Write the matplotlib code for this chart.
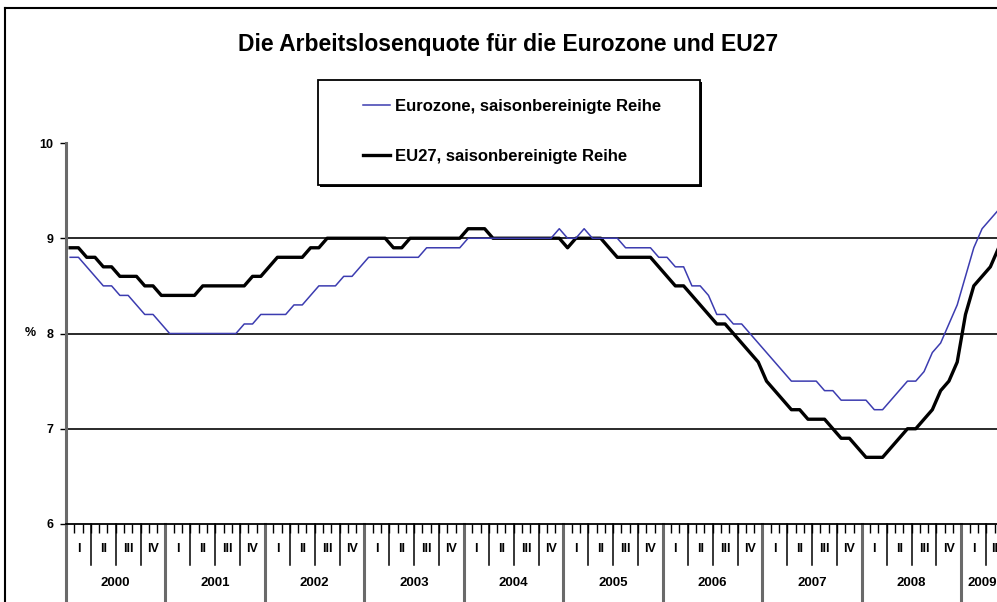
import numpy as np
import matplotlib
matplotlib.use("Agg")
import matplotlib.pyplot as plt
from matplotlib.patches import Rectangle
from matplotlib.lines import Line2D

plt.rcParams["font.family"] = ["Liberation Sans", "DejaVu Sans"]

###############################################################################
# Daten: monatliche Arbeitslosenquote in %, Jan 2000 - Mai 2009
###############################################################################

eurozone = [
    8.8, 8.8, 8.7, 8.6, 8.5, 8.5, 8.4, 8.4, 8.3, 8.2, 8.2, 8.1,   # 2000
    8.0, 8.0, 8.0, 8.0, 8.0, 8.0, 8.0, 8.0, 8.0, 8.1, 8.1, 8.2,   # 2001
    8.2, 8.2, 8.2, 8.3, 8.3, 8.4, 8.5, 8.5, 8.5, 8.6, 8.6, 8.7,   # 2002
    8.8, 8.8, 8.8, 8.8, 8.8, 8.8, 8.8, 8.9, 8.9, 8.9, 8.9, 8.9,   # 2003
    9.0, 9.0, 9.0, 9.0, 9.0, 9.0, 9.0, 9.0, 9.0, 9.0, 9.0, 9.1,   # 2004
    9.0, 9.0, 9.1, 9.0, 9.0, 9.0, 9.0, 8.9, 8.9, 8.9, 8.9, 8.8,   # 2005
    8.8, 8.7, 8.7, 8.5, 8.5, 8.4, 8.2, 8.2, 8.1, 8.1, 8.0, 7.9,   # 2006
    7.8, 7.7, 7.6, 7.5, 7.5, 7.5, 7.5, 7.4, 7.4, 7.3, 7.3, 7.3,   # 2007
    7.3, 7.2, 7.2, 7.3, 7.4, 7.5, 7.5, 7.6, 7.8, 7.9, 8.1, 8.3,   # 2008
    8.6, 8.9, 9.1, 9.2, 9.3,                                       # 2009
]

eu27 = [
    8.9, 8.9, 8.8, 8.8, 8.7, 8.7, 8.6, 8.6, 8.6, 8.5, 8.5, 8.4,   # 2000
    8.4, 8.4, 8.4, 8.4, 8.5, 8.5, 8.5, 8.5, 8.5, 8.5, 8.6, 8.6,   # 2001
    8.7, 8.8, 8.8, 8.8, 8.8, 8.9, 8.9, 9.0, 9.0, 9.0, 9.0, 9.0,   # 2002
    9.0, 9.0, 9.0, 8.9, 8.9, 9.0, 9.0, 9.0, 9.0, 9.0, 9.0, 9.0,   # 2003
    9.1, 9.1, 9.1, 9.0, 9.0, 9.0, 9.0, 9.0, 9.0, 9.0, 9.0, 9.0,   # 2004
    8.9, 9.0, 9.0, 9.0, 9.0, 8.9, 8.8, 8.8, 8.8, 8.8, 8.8, 8.7,   # 2005
    8.6, 8.5, 8.5, 8.4, 8.3, 8.2, 8.1, 8.1, 8.0, 7.9, 7.8, 7.7,   # 2006
    7.5, 7.4, 7.3, 7.2, 7.2, 7.1, 7.1, 7.1, 7.0, 6.9, 6.9, 6.8,   # 2007
    6.7, 6.7, 6.7, 6.8, 6.9, 7.0, 7.0, 7.1, 7.2, 7.4, 7.5, 7.7,   # 2008
    8.2, 8.5, 8.6, 8.7, 8.9,                                       # 2009
]

years = ["2000", "2001", "2002", "2003", "2004",
         "2005", "2006", "2007", "2008", "2009"]
quarters = ["I", "II", "III", "IV"]
y_ticks = [6, 7, 8, 9, 10]

title = "Die Arbeitslosenquote für die Eurozone und EU27"
label_ez = "Eurozone, saisonbereinigte Reihe"
label_eu = "EU27, saisonbereinigte Reihe"

n = len(eurozone)
months = np.arange(n) + 0.5   # Punkte in der Mitte der Monatskategorie

###############################################################################
# Diagramm
###############################################################################

W, H = 997, 602
fig = plt.figure(figsize=(W / 100, H / 100), dpi=100)
ax = fig.add_axes([66 / W, 1 - 524 / H, 1 - 66 / W, (524 - 143) / H])

# horizontale Gitterlinien bei 7, 8, 9
for v in y_ticks[1:-1]:
    ax.axhline(v, color="#2a2a2a", lw=1.4, zorder=1)

line_ez, = ax.plot(months, eurozone, color="#3c3cb0", lw=1.1, zorder=3)
line_eu, = ax.plot(months, eu27, color="black", lw=2.4, zorder=2)

# rechter Rand: Diagramm ist im Original abgeschnitten
ax.set_xlim(0, 112.3)
ax.set_ylim(y_ticks[0], y_ticks[-1])

ax.spines["top"].set_visible(False)
ax.spines["right"].set_visible(False)
ax.spines["left"].set_color("#6a6a6a")
ax.spines["left"].set_linewidth(2.2)
ax.spines["bottom"].set_linewidth(1.3)

ax.set_yticks(y_ticks)
ax.set_yticklabels([str(v) for v in y_ticks])
ax.tick_params(axis="y", length=4, width=1, pad=5, labelsize=9)
for t in ax.get_yticklabels():
    t.set_fontweight("bold")

# Monats-Teilstriche
ax.set_xticks(np.arange(0, n))
ax.set_xticklabels([])
ax.tick_params(axis="x", length=6.5, width=1, direction="out")

fig.text(30 / W, 1 - 333 / H, "%", ha="center", va="center",
         fontsize=9, fontweight="bold")

# Quartals- und Jahrestrennlinien unter der Achse
xt = ax.get_xaxis_transform()
for b in range(0, n, 3):
    if b % 12 == 0:
        ax.plot([b, b], [0, -0.2], transform=xt, color="#6a6a6a",
                lw=2.2, clip_on=False)
    else:
        ax.plot([b, b], [0, -0.108], transform=xt, color="black",
                lw=1.1, clip_on=False)

# Quartalsbeschriftung
for q0 in range(0, n, 3):
    c = (q0 + min(q0 + 3, n)) / 2
    ax.text(c, -0.066, quarters[(q0 // 3) % 4], transform=xt,
            ha="center", va="center", fontsize=9, fontweight="bold")

# Jahresbeschriftung
for i, y in enumerate(years):
    y0 = i * 12
    c = (y0 + min(y0 + 12, n)) / 2
    ax.text(c, -0.155, y, transform=xt, ha="center", va="center",
            fontsize=9.5, fontweight="bold")

# Titel
fig.text(0.5095, 1 - 45 / H, title, ha="center", va="center",
         fontsize=16.5, fontweight="bold")

# Legende mit Rahmen und Schatten
shadow = Rectangle((320 / W, 1 - 187 / H), 382 / W, 105 / H,
                   transform=fig.transFigure, facecolor="black",
                   edgecolor="none", zorder=1)
frame = Rectangle((318 / W, 1 - 185 / H), 382 / W, 105 / H,
                  transform=fig.transFigure, facecolor="white",
                  edgecolor="black", lw=1.3, zorder=1.5)
fig.add_artist(shadow)
fig.add_artist(frame)
leg = fig.legend([line_ez, line_eu], [label_ez, label_eu], loc="center",
                 bbox_to_anchor=(0.5135, 1 - 131 / H), frameon=False,
                 labelspacing=2.1, handlelength=1.6, handletextpad=0.3,
                 prop={"size": 12, "weight": "bold"})
leg.set_zorder(5)

# äußerer Rahmen (links und oben sichtbar)
fig.add_artist(Line2D([5 / W, 5 / W], [0, 1 - 8 / H], color="black", lw=1.5))
fig.add_artist(Line2D([5 / W, 1], [1 - 8 / H, 1 - 8 / H], color="black", lw=1.5))

fig.savefig("out.png", dpi=100)
